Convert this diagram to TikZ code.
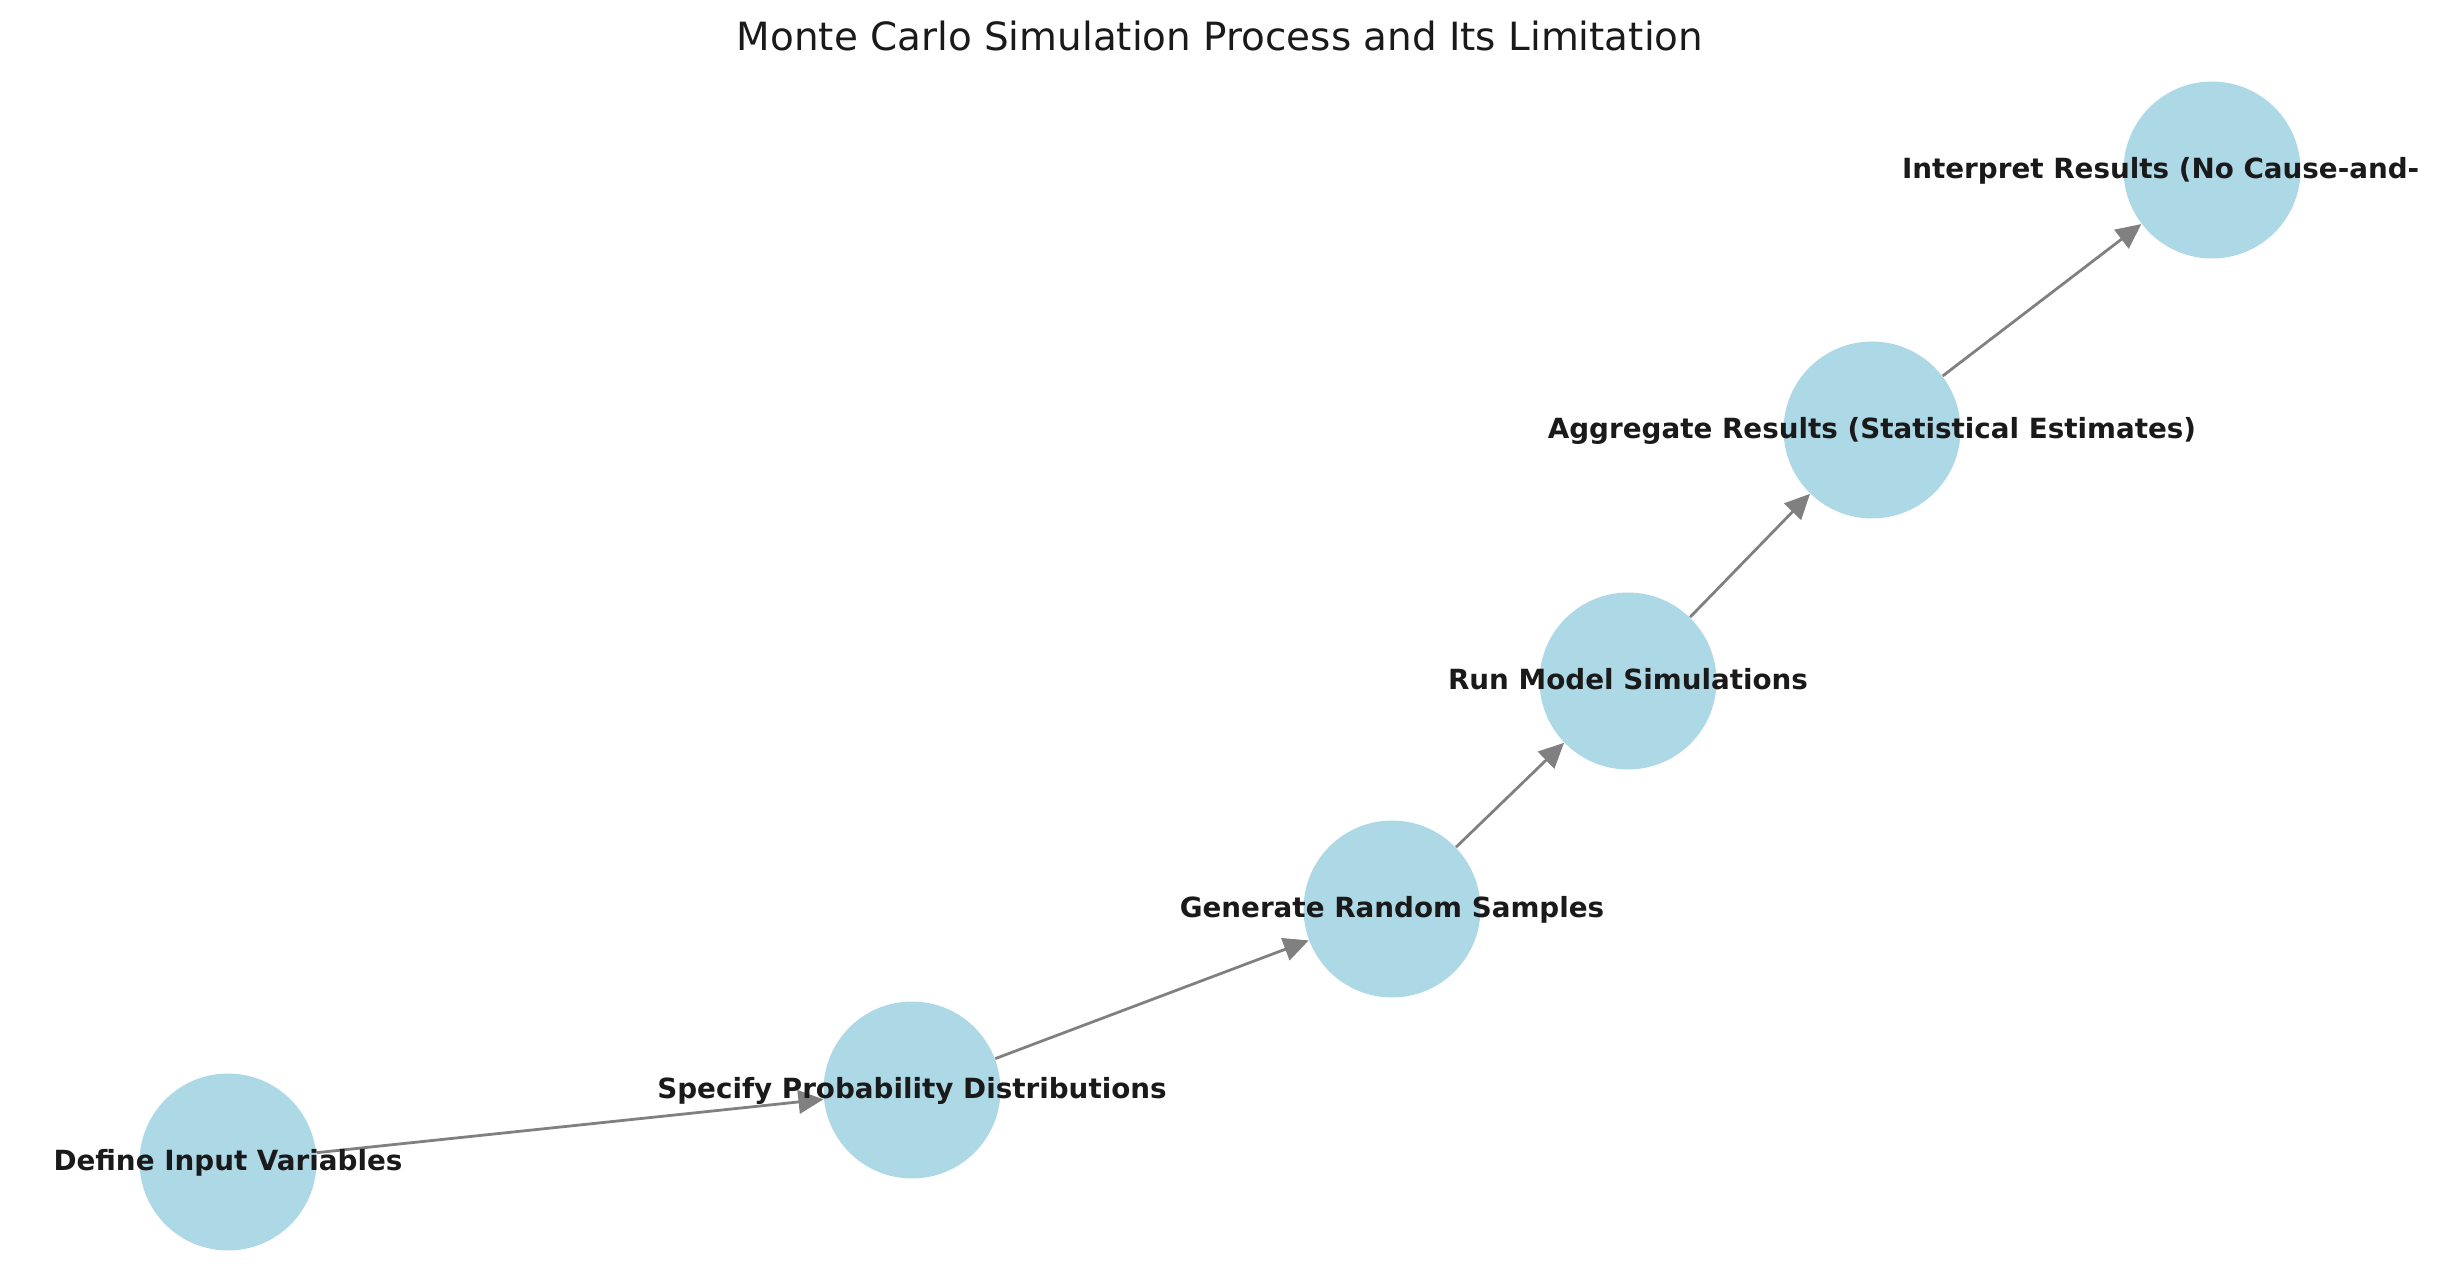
\documentclass[tikz,border=0pt]{standalone}
\usepackage{fontspec}
\setmainfont{DejaVu Sans}
\usetikzlibrary{arrows.meta}
\definecolor{nodeblue}{HTML}{ADD8E6}
\definecolor{edgegray}{HTML}{808080}
\definecolor{txt}{HTML}{1A1A1A}
\begin{document}
\begin{tikzpicture}[x=0.36pt,y=-0.36pt,
  dot/.style={circle,fill=nodeblue,minimum size=63.7pt,inner sep=0pt},
  lab/.style={font=\bfseries\fontsize{10}{12}\selectfont,text=txt,anchor=base,inner sep=0pt},
  edge/.style={draw=edgegray,line width=1pt,-{Triangle[length=9pt,width=8.4pt]}}]
\useasboundingbox (0,0) rectangle (2440,1286);
\node[dot] (n1) at (228,1162) {};
\node[dot] (n2) at (912,1090) {};
\node[dot] (n3) at (1392,909) {};
\node[dot] (n4) at (1628,681) {};
\node[dot] (n5) at (1872,430) {};
\node[dot] (n6) at (2212,170) {};
\draw[edge] (n1) -- (n2);
\draw[edge] (n2) -- (n3);
\draw[edge] (n3) -- (n4);
\draw[edge] (n4) -- (n5);
\draw[edge] (n5) -- (n6);
\begin{scope}
\clip (0,0) rectangle (2417,1286);
\node[lab] (l1) at ([yshift=-2.9pt]n1.center) {Define Input Variables};
\node[lab] (l2) at ([yshift=-2.9pt]n2.center) {Specify Probability Distributions};
\node[lab] (l3) at ([yshift=-2.9pt]n3.center) {Generate Random Samples};
\node[lab] (l4) at ([yshift=-2.9pt]n4.center) {Run Model Simulations};
\node[lab] (l5) at ([yshift=-2.9pt]n5.center) {Aggregate Results (Statistical Estimates)};
\node[lab] (l6) at ([yshift=-2.9pt]n6.center) {Interpret Results (No Cause-and-Effect)};
\end{scope}
\node[font=\fontsize{14}{17}\selectfont,text=txt,anchor=base,inner sep=0pt] (title) at (1220,51) {Monte Carlo Simulation Process and Its Limitation};
\end{tikzpicture}
\end{document}
